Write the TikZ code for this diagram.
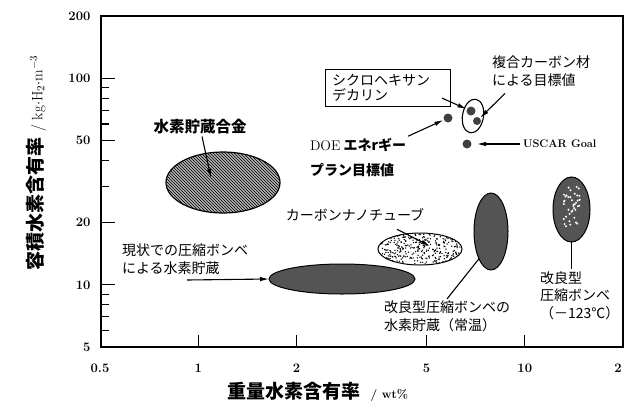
\documentclass[tikz,border=0pt]{standalone}
\usepackage{fontspec}
\newfontfamily\jp{Noto Sans CJK JP}
\usetikzlibrary{positioning,patterns,shapes.geometric,arrows.meta}

\tikzset{
  lbl/.style={inner sep=0pt, outer sep=2pt, font=\jp\fontsize{14}{18}\selectfont},
  ticknum/.style={inner sep=0pt, font=\bfseries\fontsize{13}{13}\selectfont},
  region/.style={ellipse, draw, inner sep=0pt, outer sep=0pt, line width=1pt},
  darkregion/.style={region, fill=black!67},
  ptdot/.style={circle, fill=black!75, inner sep=0pt, minimum size=9pt},
}

\begin{document}
\begin{tikzpicture}[x=1pt, y=-1pt, >={Latex[length=9pt,width=4.5pt]}, line width=1.1pt]
    \useasboundingbox (0,0) rectangle (624,408);
    % frame and log ticks
    \draw[line width=1.3pt] (101,16) rectangle (623,347);
    \foreach \v in {100,50,20,10}
        \draw (101,{347-89.73*ln(\v/5)}) -- ++(14,0);
    \foreach \v in {90,80,70,60,40,30,9,8,7,6}
        \draw (101,{347-89.73*ln(\v/5)}) -- ++(8,0);
    \foreach \v in {1,2,5,10}
        \draw ({100+141.8*ln(\v/0.5)},347) -- ++(0,-12);
    \foreach \v in {200,100,50,20,10,5}
        \node[ticknum, anchor=east] (ly\v) at (91,{347-89.73*ln(\v/5)}) {\v};
    \foreach \v [count=\i] in {0.5,1,2,5,10}
        \node[ticknum] (lx\i) at ({100+141.8*ln(\v/0.5)},368) {\v};
    \node[ticknum] (lx6) at (618,368) {2};

    \node[font=\jp\bfseries\fontsize{19}{19}\selectfont] (xlbl) at (318,392)
        {重量水素含有率\hspace{10pt}{\rmfamily\fontsize{12}{12}\selectfont / wt\%}};
    \node[rotate=90, font=\jp\bfseries\fontsize{19}{19}\selectfont] (ylbl) at (36,163)
        {容積水素含有率\hspace{6pt}{\rmfamily\mdseries\fontsize{15}{15}\selectfont / kg$\cdot$H$_2\cdot$m$^{-3}$}};

    % regions
    \node[region, minimum width=114pt, minimum height=61pt, preaction={fill=gray!60},
          pattern=north west lines, line width=1.2pt] (alloy) at (223,182.5) {};
    \node[darkregion, minimum width=146pt, minimum height=30pt] (curtank) at (342,279) {};
    \pgfmathsetseed{7}
    \node[region, fill=white, minimum width=84pt, minimum height=32pt,
          path picture={\foreach \i in {1,...,330}
              \fill[black] ([shift={({40*rand},{15*rand})}]path picture bounding box.center) circle (0.75);}]
          (cnt) at (420,249) {};
    \node[darkregion, minimum width=34pt, minimum height=77pt] (rttank) at (491,231.5) {};
    \node[darkregion, minimum width=37pt, minimum height=65pt,
          path picture={\foreach \i in {1,...,40}
              \fill[white] ([shift={({9*rand},{-3+20*rand})}]path picture bounding box.center) circle (1.1);}]
          (lttank) at (571.5,209.5) {};
    \node[region, line width=1.1pt, minimum width=21pt, minimum height=34pt, rotate=-10] (cfell) at (473,116) {};

    \node[ptdot] (doe) at (448,118) {};
    \node[ptdot] (usc) at (467,144) {};
    \node[ptdot] (cyc) at (471,111) {};
    \node[ptdot, minimum size=8pt] (fib) at (477,121) {};

    % labels
    \node[lbl, font=\jp\bfseries\fontsize{15.5}{18}\selectfont] (alloylbl) at (200,127) {水素貯蔵合金};
    \node[lbl, anchor=west, align=left] (curlbl) at (120,259) {現状での圧縮ボンベ\\による水素貯蔵};
    \node[lbl] (cntlbl) at (355,215) {カーボンナノチューブ};
    \node[lbl, anchor=west, align=left] (rtlbl) at (382,316.5) {改良型圧縮ボンベの\\水素貯蔵（常温）};
    \node[lbl, anchor=west, align=left, font=\jp\fontsize{14}{17.5}\selectfont] (ltlbl) at (538,295.5)
        {改良型\\圧縮ボンベ\\（－123℃）};
    \node[lbl, draw, line width=0.8pt, anchor=north west, text width=111pt, inner xsep=7pt,
          inner ysep=5pt, align=left, font=\jp\fontsize{14}{15}\selectfont] (boxlbl) at (323,67)
        {シクロヘキサン\\デカリン};
    \node[lbl, anchor=west, align=left] (fiblbl) at (490,71) {複合カーボン材\\による目標値};
    \node[lbl, anchor=west, align=left, font=\jp\bfseries\fontsize{14}{25}\selectfont] (doelbl) at (308,157.5)
        {{\rmfamily\mdseries DOE} エネrギー\\プラン目標値};
    \node[anchor=west, inner sep=0pt, outer sep=3pt, font=\bfseries\fontsize{11}{13}\selectfont]
        (uscarlbl) at (520,144) {USCAR Goal};

    % connectors
    \coordinate (alloytip) at (211,178);
    \coordinate (curtail) at (187,280);
    \coordinate (cnttip) at (430,246);
    \draw[->] (alloylbl) -- (alloytip);
    \draw[->] (curtail) -- (curtank.west);
    \draw[->] ([xshift=42pt,yshift=-6pt]cntlbl.south) -- (cnttip);
    \draw (rtlbl.north) -- (rttank.south west);
    \draw (lttank.south) -- (lttank.south |- ltlbl.north);
    \draw[->] ([xshift=-10pt,yshift=10pt]boxlbl.south east) -- (cyc);
    \draw[->] ([xshift=15pt,yshift=-5pt]fiblbl.south west) -- (fib);
    \draw[->] (doelbl.north east) -- (doe);
    \draw[->, shorten >=5pt] (uscarlbl.west) -- (usc);
\end{tikzpicture}
\end{document}
